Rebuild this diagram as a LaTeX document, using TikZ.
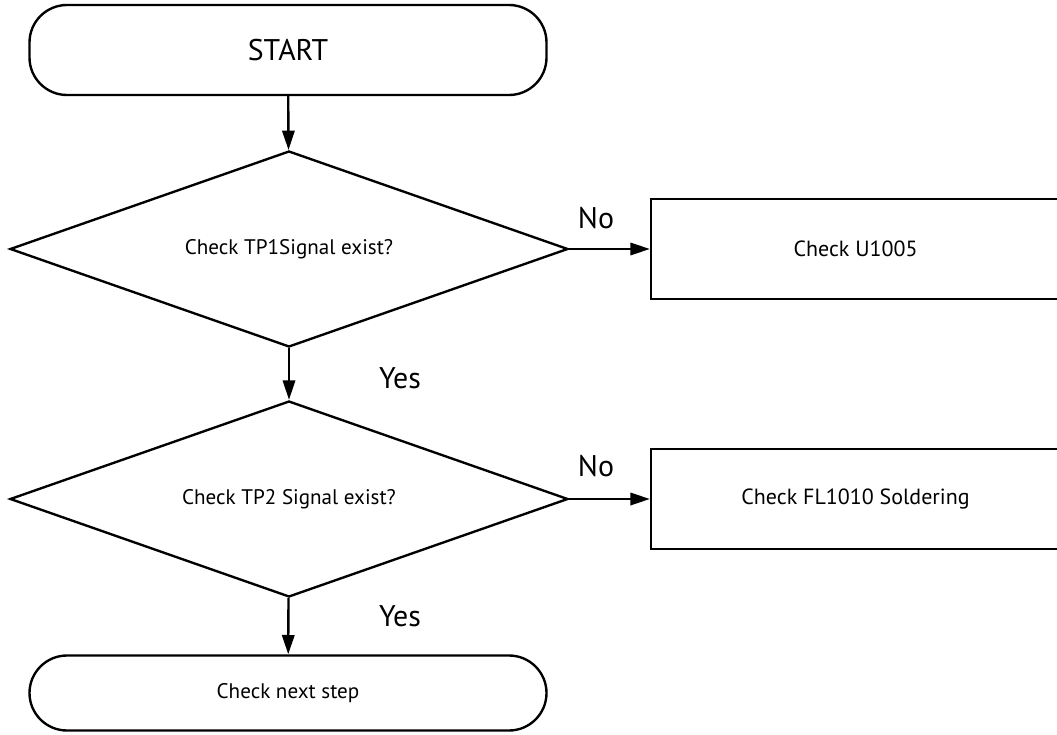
\documentclass[tikz,border=0pt]{standalone}
\usepackage{fontspec}
\setmainfont{PT Sans}
\usetikzlibrary{shapes.geometric,arrows.meta}
\begin{document}
\begin{tikzpicture}[>={Triangle[length=11pt,width=7pt]}, line width=1.35pt,
		terminal/.style={draw, rounded corners=0.75cm, minimum width=10.34cm, inner sep=0pt},
		decision/.style={draw, diamond, aspect=2.85, minimum width=11.16cm, minimum height=3.92cm, inner sep=0pt, font=\fontsize{12}{14}\selectfont},
		process/.style={draw, rectangle, minimum width=8.18cm, minimum height=2cm, inner sep=0pt, font=\fontsize{12.5}{15}\selectfont},
		answer/.style={font=\fontsize{17}{20}\selectfont}]
		\clip (0,0) rectangle (21.14,-14.7);
		\node[terminal, minimum height=1.8cm, font=\fontsize{17}{20}\selectfont] (start) at (5.76,-1.0) {START};
		\node[decision] (tpone) at (5.78,-4.98) {Check TP1Signal exist?};
		\node[process] (chku) at (17.11,-4.98) {Check U1005};
		\node[decision] (tptwo) at (5.78,-9.98) {Check TP2 Signal exist?};
		\node[process] (chkfl) at (17.11,-9.98) {Check FL1010 Soldering};
		\node[terminal, minimum height=1.5cm, font=\fontsize{12}{14}\selectfont] (next) at (5.76,-13.86) {Check next step};
		% arrows
		\draw[->] (start) -- (tpone);
		\draw[->] (tpone) -- (chku);
		\draw[->] (tpone) -- (tptwo);
		\draw[->] (tptwo) -- (chkfl);
		\draw[->] (tptwo) -- (next);
		% answers
		\node[answer] (noone) at (11.92,-4.36) {No};
		\node[answer] (notwo) at (11.92,-9.32) {No};
		\node[answer] (yesone) at (8.0,-7.56) {Yes};
		\node[answer] (yestwo) at (8.0,-12.32) {Yes};
	\end{tikzpicture}
\end{document}
